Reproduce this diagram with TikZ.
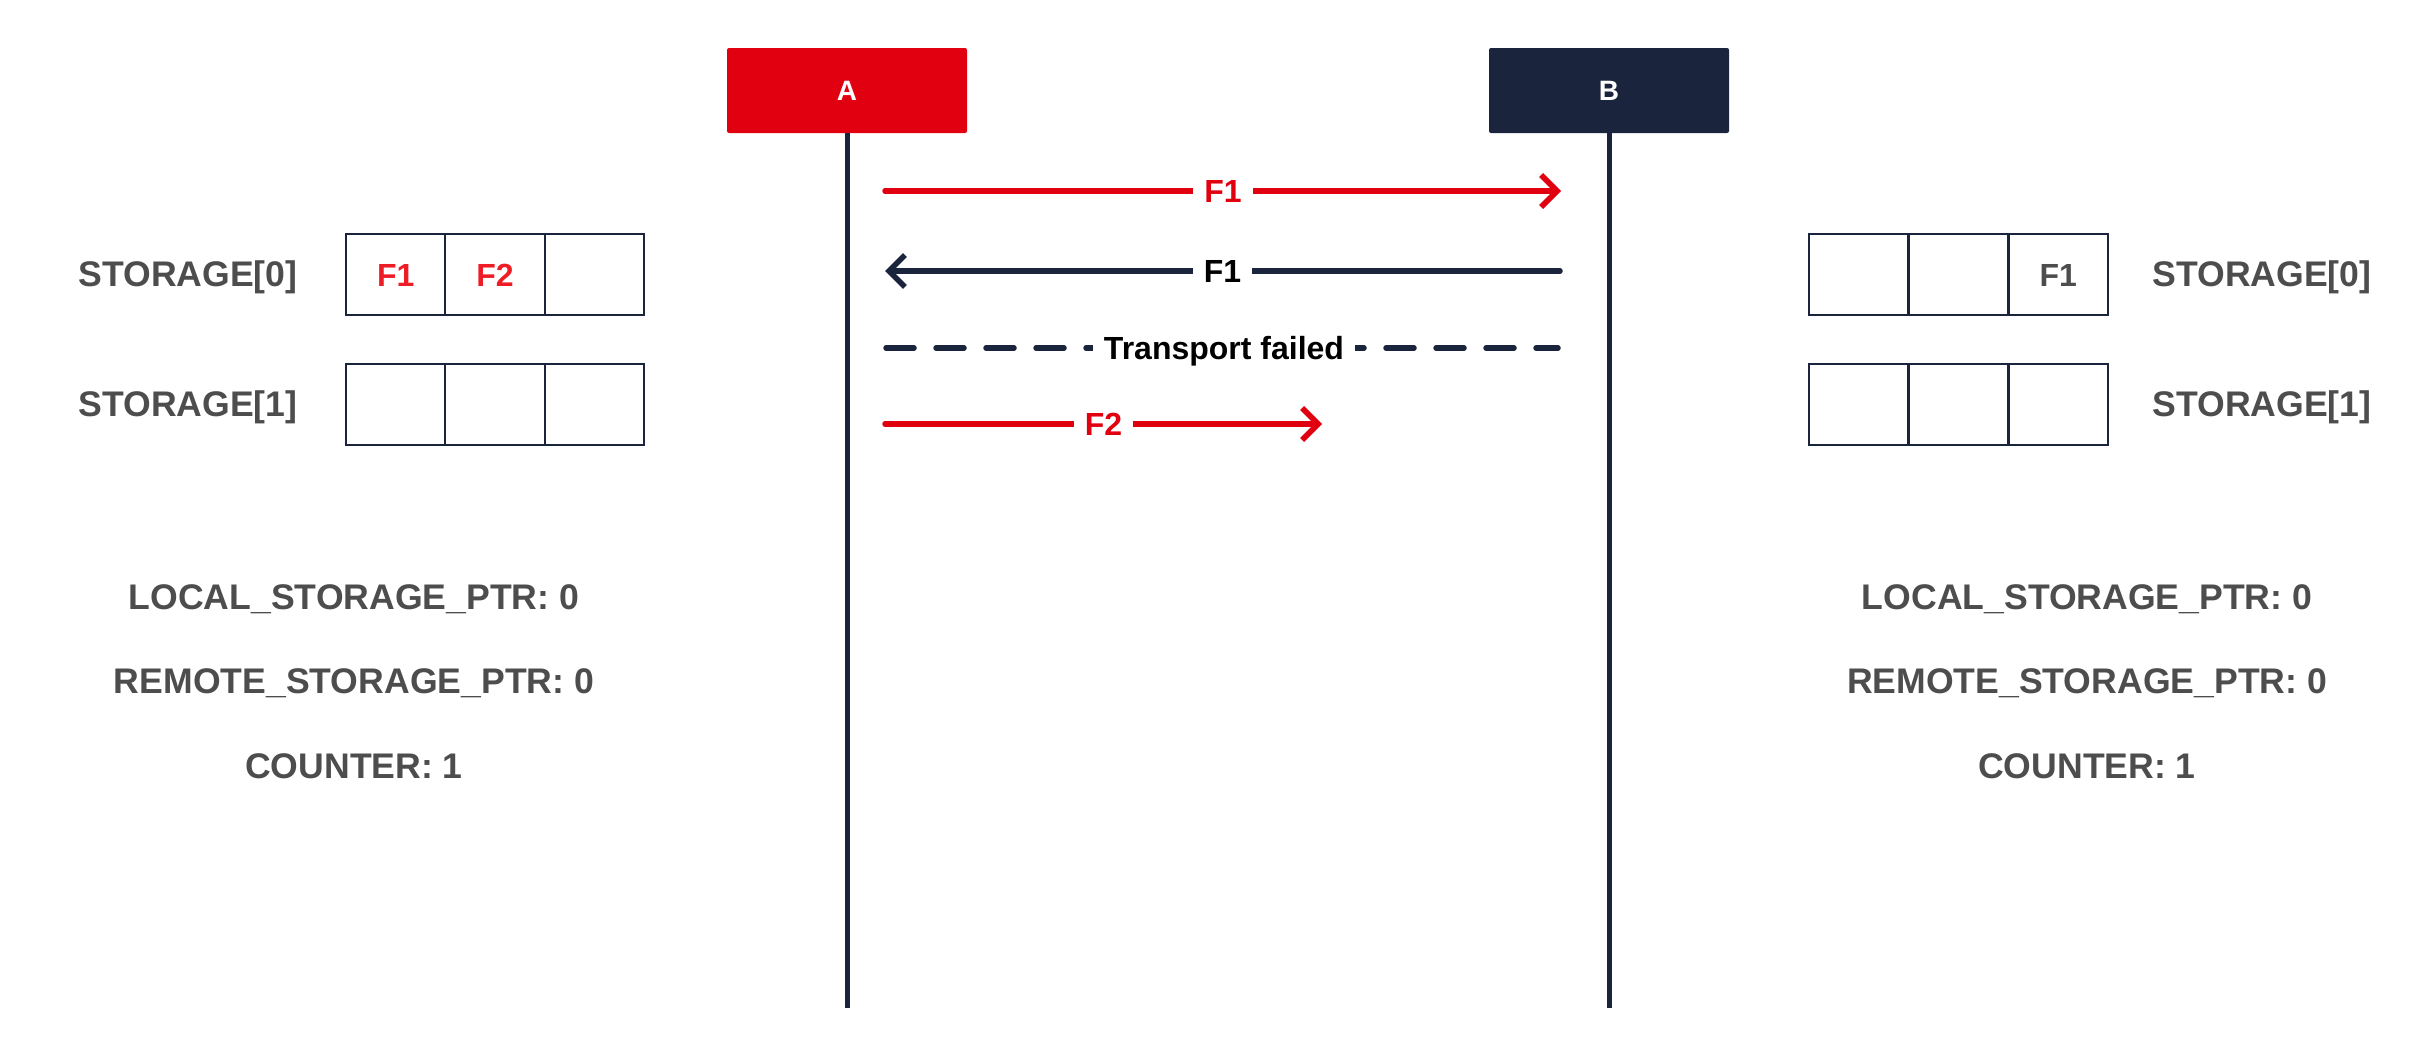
\documentclass[tikz,border=0pt]{standalone}
\usepackage{fontspec}
\setmainfont{Liberation Sans}
\usetikzlibrary{arrows.meta}
\definecolor{cred}{HTML}{E1000F}
\definecolor{cnavy}{HTML}{1A253D}
\definecolor{cgray}{HTML}{4D4D4D}
\definecolor{ccell}{HTML}{EE1C25}
\begin{document}
\begin{tikzpicture}[x=0.5pt,y=-0.5pt,
  actor/.style={minimum width=120pt,minimum height=42.5pt,inner sep=0pt,rounded corners=1pt,
    text=white,font=\fontsize{14}{16}\selectfont\bfseries,text height=10pt,text depth=0pt},
  life/.style={draw=cnavy,line width=2.5pt},
  msg/.style={line width=2.75pt,line cap=round,-{Straight Barb[length=8pt,width=16pt]}},
  lbl/.style={fill=white,inner xsep=5.5pt,inner ysep=2pt,text height=11.5pt,text depth=0pt,
    font=\fontsize{16}{18}\selectfont\bfseries},
  cell/.style={draw=cnavy,line width=1pt,minimum width=49.67pt,minimum height=40.5pt,inner sep=0pt,
    font=\fontsize{16}{18}\selectfont\bfseries,text height=11.5pt,text depth=0pt},
  info/.style={text=cgray,inner sep=0pt,font=\fontsize{17.8}{20}\selectfont\bfseries,
    text height=12.7pt,text depth=0pt}
]
\useasboundingbox (0,0) rectangle (2434,1060);

% actors
\node[actor,fill=cred] (A) at (847,90.5) {A};
\node[actor,fill=cnavy] (B) at (1609,90.5) {B};
\coordinate (Aend) at (847,1008);
\coordinate (Bend) at (1609,1008);
\draw[life] (A.south) -- (Aend);
\draw[life] (B.south) -- (Bend);

% messages
\coordinate (m1s) at (885,191);  \coordinate (m1e) at (1561,191);
\coordinate (m2s) at (1560,271); \coordinate (m2e) at (885,271);
\coordinate (m3s) at (886,348);  \coordinate (m3e) at (1558,348);
\coordinate (m4s) at (885,424);  \coordinate (m4e) at (1322,424);
\draw[msg,draw=cred] (m1s) -- node[lbl,text=cred] (l1) {F1} (m1e);
\draw[msg,draw=cnavy] (m2s) -- node[lbl,text=black] (l2) {F1} (m2e);
\draw[draw=cnavy,line width=2.75pt,line cap=round,dash pattern=on 14pt off 11pt]
  (m3s) -- node[lbl,text=black,xshift=1pt] (l3) {Transport failed\hspace{9pt}} (m3e);
\draw[msg,draw=cred] (m4s) -- node[lbl,text=cred] (l4) {F2} (m4e);

% left storage
\node[cell,text=ccell] (L00) at (395.67,274.5) {F1};
\node[cell,text=ccell] (L01) at (495,274.5) {F2};
\node[cell] (L02) at (594.33,274.5) {};
\node[cell] (L10) at (395.67,404.5) {};
\node[cell] (L11) at (495,404.5) {};
\node[cell] (L12) at (594.33,404.5) {};
\node[info] (LS0) at (188,274) {STORAGE[0]};
\node[info] (LS1) at (188,404) {STORAGE[1]};
\node[info] (Lloc) at (354,597) {LOCAL\_STORAGE\_PTR: 0};
\node[info] (Lrem) at (354,681) {REMOTE\_STORAGE\_PTR: 0};
\node[info] (Lcnt) at (354,766) {COUNTER: 1};

% right storage
\node[cell] (R00) at (1858.8,274.5) {};
\node[cell] (R01) at (1958.5,274.5) {};
\node[cell,text=cgray] (R02) at (2058.2,274.5) {F1};
\node[cell] (R10) at (1858.8,404.5) {};
\node[cell] (R11) at (1958.5,404.5) {};
\node[cell] (R12) at (2058.2,404.5) {};
\node[info] (RS0) at (2262,274) {STORAGE[0]};
\node[info] (RS1) at (2262,404) {STORAGE[1]};
\node[info] (Rloc) at (2087,597) {LOCAL\_STORAGE\_PTR: 0};
\node[info] (Rrem) at (2087,681) {REMOTE\_STORAGE\_PTR: 0};
\node[info] (Rcnt) at (2087,766) {COUNTER: 1};
\end{tikzpicture}
\end{document}
